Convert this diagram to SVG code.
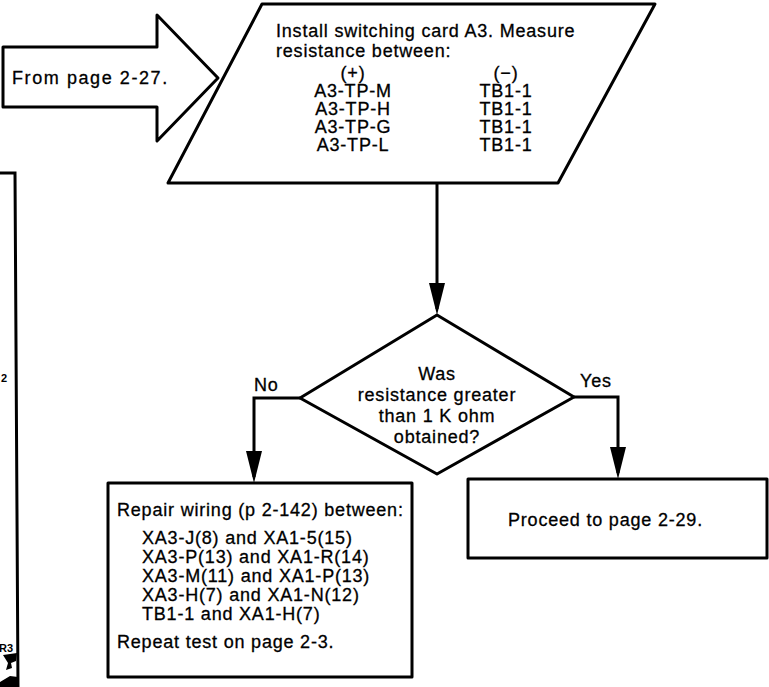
<svg xmlns="http://www.w3.org/2000/svg" width="769" height="687" viewBox="0 0 769 687">
  <style>
    .shape { fill: #ffffff; stroke: #000000; stroke-width: 3; stroke-linejoin: round; }
    .wire { fill: none; stroke: #000000; stroke-width: 3; stroke-linejoin: miter; }
    text { font-family: "Liberation Sans", Arial, sans-serif; font-size: 18px; fill: #000000; stroke: #000000; stroke-width: 0.3px; letter-spacing: 0.8px; }
    .mid { text-anchor: middle; }
    .tiny { font-size: 11px; font-weight: bold; letter-spacing: 0; stroke-width: 0; }
  </style>
  <defs>
    <marker id="head" markerUnits="userSpaceOnUse" viewBox="0 0 32 16" markerWidth="32" markerHeight="16" refX="26" refY="8" orient="auto">
      <path d="M0,0 L32,8 L0,16 Z" fill="#000000"/>
    </marker>
  </defs>

  <rect width="769" height="687" fill="#ffffff"/>

  <!-- edge of the neighbouring sheet -->
  <g id="sheet-edge">
    <path class="wire" d="M0,173 L15,173 L18,687"/>
    <text class="tiny" x="1" y="382">2</text>
    <text class="tiny" x="-1" y="652">R3</text>
    <path d="M3,655 L17,653 L16,661 L11,663 L12,668 L6,670 L8,663 Z M0,682 L10,676 L18,677 L18,687 L0,687 Z" fill="#000000"/>
  </g>

  <!-- entry arrow -->
  <g id="node-from">
    <polygon class="shape" points="3,47 157,47 157,15 218,78 157,141 157,107 3,107"/>
    <text x="12" y="84" textLength="156" lengthAdjust="spacing">From page 2-27.</text>
  </g>

  <!-- measurement step -->
  <g id="node-measure">
    <polygon class="shape" points="262,4 655,4 558,183 168,183"/>
    <text x="276" y="37">Install switching card A3. Measure</text>
    <text x="276" y="57">resistance between:</text>
    <text class="mid" x="353" y="79">(+)</text>
    <text class="mid" x="353" y="97">A3-TP-M</text>
    <text class="mid" x="353" y="115">A3-TP-H</text>
    <text class="mid" x="353" y="133">A3-TP-G</text>
    <text class="mid" x="353" y="151">A3-TP-L</text>
    <text class="mid" x="506" y="79">(−)</text>
    <text class="mid" x="506" y="97">TB1-1</text>
    <text class="mid" x="506" y="115">TB1-1</text>
    <text class="mid" x="506" y="133">TB1-1</text>
    <text class="mid" x="506" y="151">TB1-1</text>
  </g>

  <!-- decision -->
  <g id="node-decision">
    <polygon class="shape" points="437,315 574,397 437,474 300,398"/>
    <text class="mid" x="437" y="380">Was</text>
    <text class="mid" x="437" y="401">resistance greater</text>
    <text class="mid" x="437" y="422">than 1 K ohm</text>
    <text class="mid" x="437" y="443">obtained?</text>
  </g>

  <!-- repair step -->
  <g id="node-repair">
    <rect class="shape" x="108" y="483" width="304" height="194"/>
    <text x="117" y="516">Repair wiring (p 2-142) between:</text>
    <text x="142" y="544">XA3-J(8) and XA1-5(15)</text>
    <text x="142" y="563">XA3-P(13) and XA1-R(14)</text>
    <text x="142" y="582">XA3-M(11) and XA1-P(13)</text>
    <text x="142" y="601">XA3-H(7) and XA1-N(12)</text>
    <text x="142" y="620">TB1-1 and XA1-H(7)</text>
    <text x="117" y="648">Repeat test on page 2-3.</text>
  </g>

  <!-- exit step -->
  <g id="node-proceed">
    <rect class="shape" x="468" y="479" width="299" height="79"/>
    <text x="508" y="526">Proceed to page 2-29.</text>
  </g>

  <!-- connectors -->
  <g id="connectors">
    <path class="wire" d="M437,183 L437,309" marker-end="url(#head)"/>
    <path class="wire" d="M300,398 L254,398 L254,477" marker-end="url(#head)"/>
    <path class="wire" d="M574,397 L618,397 L618,473" marker-end="url(#head)"/>
    <text x="254" y="391">No</text>
    <text x="580" y="387">Yes</text>
  </g>
</svg>
